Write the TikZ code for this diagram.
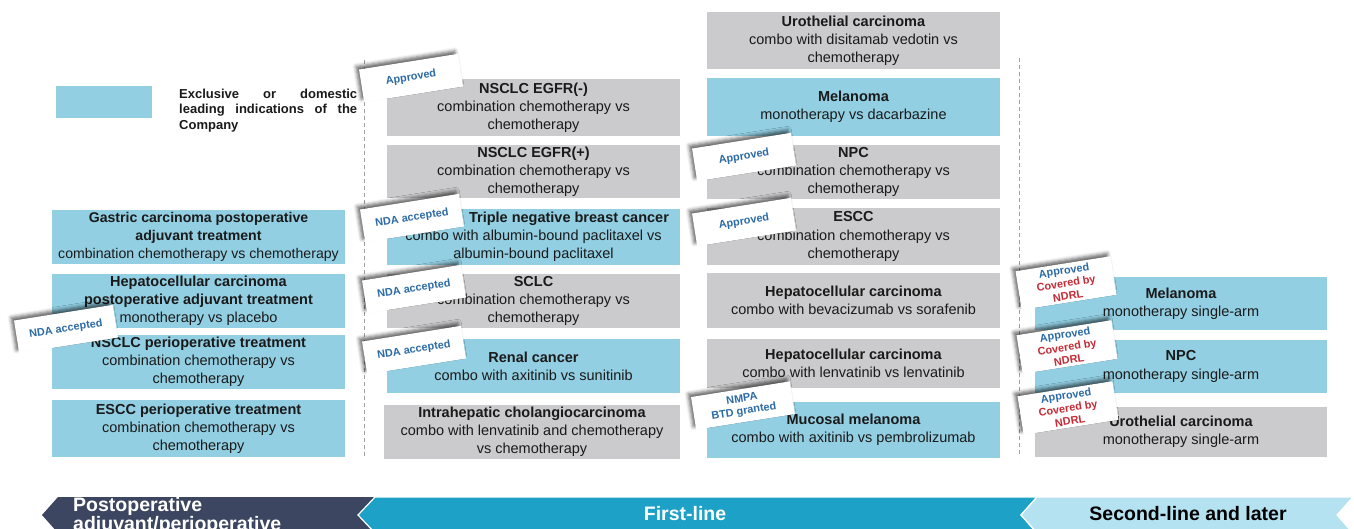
\documentclass[tikz,border=0pt]{standalone}
\usepackage{fontspec}
\setmainfont{Liberation Sans}
\usetikzlibrary{shadows.blur}
\definecolor{boxblue}{RGB}{146,207,227}
\definecolor{boxgray}{RGB}{203,203,205}
\definecolor{navycol}{RGB}{61,70,96}
\definecolor{firstblue}{RGB}{29,161,199}
\definecolor{secondblue}{RGB}{180,226,241}
\definecolor{tagblue}{RGB}{43,107,166}
\definecolor{tagred}{RGB}{197,42,53}
\definecolor{dashgray}{RGB}{160,160,160}
\definecolor{txt}{RGB}{26,26,26}
\begin{document}
\begin{tikzpicture}[x=1pt,y=1pt,
  ind/.style={inner sep=0pt, minimum width=293pt, align=center, text=txt,
    font=\fontsize{14.5}{18.2}\selectfont},
  blu/.style={ind, fill=boxblue},
  gry/.style={ind, fill=boxgray},
  tag/.style={fill=white, minimum width=100pt, minimum height=33pt, inner sep=0pt,
    rotate=9, align=center, text=tagblue,
    font=\bfseries\fontsize{10.9}{12.5}\selectfont,
    blur shadow={shadow xshift=-3pt, shadow yshift=3pt, shadow blur radius=3.5pt, shadow opacity=60}},
  tagthree/.style={tag, minimum width=96pt, minimum height=39pt, font=\bfseries\fontsize{10.9}{13}\selectfont},
  dashln/.style={dashgray, line width=0.9pt, dash pattern=on 4pt off 3pt},
  chev/.style={draw=white, line width=1.2pt},
  arrowtxt/.style={inner sep=0pt, font=\bfseries\fontsize{19.5}{18.5}\selectfont}
]
\useasboundingbox (0,0) rectangle (1354,-528);

% legend
\node[fill=boxblue, minimum width=96pt, minimum height=32pt, inner sep=0pt] (legbox) at (104,-102) {};
\node[anchor=north west, inner sep=0pt, text width=178pt, align=left, text=txt,
  font=\bfseries\fontsize{13}{15.5}\selectfont] (legtxt) at (179,-88.5)
  {Exclusive\hfill or\hfill domestic\\leading\hfill indications\hfill of\hfill the\\Company};

% dashed separators
\coordinate (d1t) at (364,-60); \coordinate (d1b) at (364,-457);
\coordinate (d2t) at (1019,-58); \coordinate (d2b) at (1019,-457);
\draw[dashln] (d1t) -- (d1b);
\draw[dashln] (d2t) -- (d2b);

% column 1
\node[blu, minimum height=54pt, font=\fontsize{14.1}{18}\selectfont] (gastric) at (198.5,-237)
  {\textbf{Gastric carcinoma postoperative}\\\textbf{adjuvant treatment}\\combination chemotherapy vs chemotherapy};
\node[blu, minimum height=54pt] (hccpost) at (198.5,-301)
  {\textbf{Hepatocellular carcinoma}\\\textbf{postoperative adjuvant treatment}\\monotherapy vs placebo};
\node[blu, minimum height=54pt] (nsclcperi) at (198.5,-362)
  {\textbf{NSCLC perioperative treatment}\\combination chemotherapy vs\\chemotherapy};
\node[blu, minimum height=57pt] (esccperi) at (198.5,-428.5)
  {\textbf{ESCC perioperative treatment}\\combination chemotherapy vs\\chemotherapy};

% column 2
\node[gry, minimum height=57pt] (egfrneg) at (533.5,-107.5)
  {\textbf{NSCLC EGFR(-)}\\combination chemotherapy vs\\chemotherapy};
\node[gry, minimum height=53pt] (egfrpos) at (533.5,-171.5)
  {\textbf{NSCLC EGFR(+)}\\combination chemotherapy vs\\chemotherapy};
\node[blu, minimum height=56pt] (tnbc) at (533.5,-237)
  {\hspace*{71pt}\textbf{Triple negative breast cancer}\\combo with albumin-bound paclitaxel vs\\albumin-bound paclitaxel};
\node[gry, minimum height=54pt] (sclc) at (533.5,-301)
  {\textbf{SCLC}\\combination chemotherapy vs\\chemotherapy};
\node[blu, minimum height=54pt] (renal) at (533.5,-366)
  {\textbf{Renal cancer}\\combo with axitinib vs sunitinib};
\node[gry, minimum height=54pt, minimum width=296pt] (ihcc) at (532,-432)
  {\textbf{Intrahepatic cholangiocarcinoma}\\combo with lenvatinib and chemotherapy\\vs chemotherapy};

% column 3
\node[gry, minimum height=57pt] (uro) at (853.5,-40.5)
  {\textbf{Urothelial carcinoma}\\combo with disitamab vedotin vs\\chemotherapy};
\node[blu, minimum height=58pt] (mel) at (853.5,-107)
  {\textbf{Melanoma}\\monotherapy vs dacarbazine};
\node[gry, minimum height=54pt] (npc) at (853.5,-172)
  {\textbf{NPC}\\combination chemotherapy vs\\chemotherapy};
\node[gry, minimum height=57pt] (escc) at (853.5,-236.5)
  {\textbf{ESCC}\\combination chemotherapy vs\\chemotherapy};
\node[gry, minimum height=55pt] (hccbev) at (853.5,-300.5)
  {\textbf{Hepatocellular carcinoma}\\combo with bevacizumab vs sorafenib};
\node[gry, minimum height=49pt] (hcclen) at (853.5,-363.5)
  {\textbf{Hepatocellular carcinoma}\\combo with lenvatinib vs lenvatinib};
\node[blu, minimum height=56pt] (mucosal) at (853.5,-430)
  {\textbf{Mucosal melanoma}\\combo with axitinib vs pembrolizumab};

% column 4
\node[blu, minimum height=53pt, minimum width=292pt] (mel2) at (1181,-303.5)
  {\textbf{Melanoma}\\monotherapy single-arm};
\node[blu, minimum height=53pt, minimum width=292pt] (npc2) at (1181,-366.5)
  {\textbf{NPC}\\monotherapy single-arm};
\node[gry, minimum height=50pt, minimum width=292pt] (uro2) at (1181,-432)
  {\textbf{Urothelial carcinoma}\\monotherapy single-arm};

% tags
\node[tag] (t1) at (411,-78) {Approved};
\node[tag] (t2) at (412,-218) {NDA accepted};
\node[tag] (t3) at (414,-289) {NDA accepted};
\node[tag] (t4) at (414,-350) {NDA accepted};
\node[tag] (t5) at (66,-329) {NDA accepted};
\node[tag] (t6) at (744,-157) {Approved};
\node[tag] (t7) at (744,-222) {Approved};
\node[tag] (t8) at (743,-405.5) {NMPA\\BTD granted};
\node[tagthree] (t9) at (1066,-283) {Approved\\\textcolor{tagred}{Covered by}\\\textcolor{tagred}{NDRL}};
\node[tagthree] (t10) at (1067,-347) {Approved\\\textcolor{tagred}{Covered by}\\\textcolor{tagred}{NDRL}};
\node[tagthree] (t11) at (1068,-408) {Approved\\\textcolor{tagred}{Covered by}\\\textcolor{tagred}{NDRL}};

% bottom chevrons
\fill[navycol] (58,-497) -- (42,-515) -- (58,-533) -- (380,-533) -- (364,-515) -- (380,-497) -- cycle;
\filldraw[fill=firstblue, chev] (375,-497) -- (358,-515) -- (375,-533) -- (1037,-533) -- (1021,-515) -- (1037,-497) -- cycle;
\filldraw[fill=secondblue, chev] (1037,-497) -- (1021,-515) -- (1037,-533) -- (1353,-533) -- (1337,-515) -- (1353,-497) -- cycle;

\node[arrowtxt, anchor=base west, align=left, text=white] (postop) at (73,-530) {Postoperative\\adjuvant/perioperative};
\node[arrowtxt, anchor=base, text=white] (firstl) at (685,-520) {First-line};
\node[arrowtxt, anchor=base, text=black] (secondl) at (1188,-520) {Second-line and later};
\end{tikzpicture}
\end{document}
